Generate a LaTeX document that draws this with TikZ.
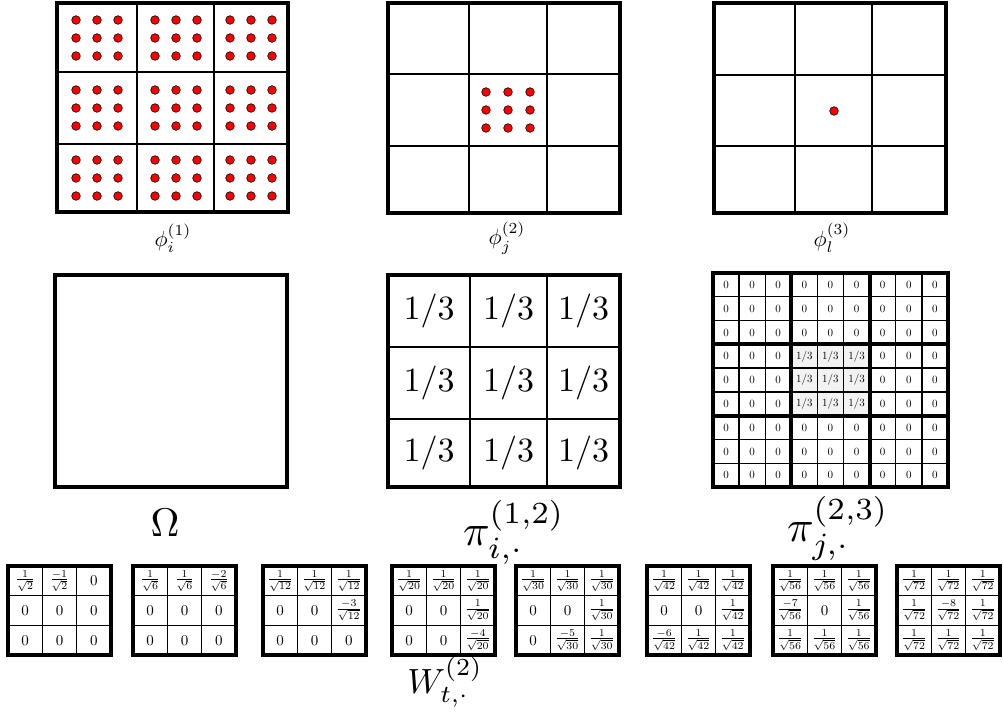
\documentclass[tikz,border=0pt]{standalone}
\usepackage{amsmath}

% one 3x3 table of the bottom row: name, left edge, entries
\newcommand{\wmatrix}[3]{%
  \draw[thinline] (#2+34.3,566) -- (#2+34.3,655) (#2+68.7,566) -- (#2+68.7,655)
                  (#2,595.7) -- (#2+103,595.7) (#2,625.3) -- (#2+103,625.3);
  \draw[frame] (#2,566) rectangle (#2+103,655);
  \foreach \e [count=\k from 0] in {#3} {
    \pgfmathtruncatemacro\col{mod(\k,3)}
    \pgfmathtruncatemacro\row{int(\k/3)}
    \node[wentry] (#1-\k) at (#2+17.2+34.3*\col,580.8+29.7*\row) {$\e$};
  }%
}

\begin{document}
\begin{tikzpicture}[x=1pt,y=-1pt,
  frame/.style={line width=4.5pt},
  thinline/.style={line width=1.1pt},
  reddot/.style={fill=red,draw=black,line width=0.6pt},
  lbl/.style={inner sep=0pt},
  wentry/.style={inner sep=0pt,scale=1.5},
  pentry/.style={inner sep=0pt,scale=1.1}]
\useasboundingbox (0,0) rectangle (1003,713);

% top row: the three levels of basis functions
\draw[thinline] (137,3) -- (137,212) (214,3) -- (214,212) (57,72) -- (288,72) (57,144) -- (288,144);
\draw[frame] (57,3) rectangle (288,212);
\foreach \cx in {97,176,251}
  \foreach \cy in {38,108,178}
    \foreach \dx in {-21,0,21}
      \foreach \dy in {-18,0,18}
        \filldraw[reddot] (\cx+\dx,\cy+\dy) circle (4.3pt);
\node[lbl,scale=2.2] (phiOne) at (173,238) {$\phi_i^{(1)}$};

\draw[thinline] (469,3) -- (469,213) (547,3) -- (547,213) (388,74) -- (620,74) (388,146) -- (620,146);
\draw[frame] (388,3) rectangle (620,213);
\foreach \dx in {-22,0,22}
  \foreach \dy in {-18,0,18}
    \filldraw[reddot] (508+\dx,110+\dy) circle (4.3pt);
\node[lbl,scale=2.2] (phiTwo) at (507,238) {$\phi_j^{(2)}$};

\draw[thinline] (795,3) -- (795,213) (872,3) -- (872,213) (714,75) -- (946,75) (714,146) -- (946,146);
\draw[frame] (714,3) rectangle (946,213);
\filldraw[reddot] (834,111) circle (4.3pt);
\node[lbl,scale=2.2] (phiThree) at (832,238) {$\phi_l^{(3)}$};

% middle row: domain and transfer matrices
\draw[frame] (55,275) rectangle (287,487);
\node[lbl,scale=4] (omega) at (165,523) {$\Omega$};

\draw[thinline] (470,275) -- (470,487) (547,275) -- (547,487) (388,347) -- (620,347) (388,419) -- (620,419);
\draw[frame] (388,275) rectangle (620,487);
\foreach \cx [count=\i] in {429,508.5,583.5}
  \foreach \cy [count=\j] in {311,383,453}
    \node[lbl,scale=3.4] (p12-\i-\j) at (\cx,\cy) {$1/3$};
\node[lbl,scale=4.4] (piOneTwo) at (514,532) {$\pi_{i,\cdot}^{(1,2)}$};

\fill[gray!10] (713+3*26.11,273+3*23.78) rectangle (713+6*26.11,273+6*23.78);
\foreach \n in {1,2,4,5,7,8}
  \draw[line width=1.4pt] (713+\n*26.11,273) -- (713+\n*26.11,487) (713,273+\n*23.78) -- (948,273+\n*23.78);
\foreach \n in {3,6}
  \draw[line width=4pt] (713+\n*26.11,273) -- (713+\n*26.11,487) (713,273+\n*23.78) -- (948,273+\n*23.78);
\draw[frame] (713,273) rectangle (948,487);
\foreach \c in {0,...,8}
  \foreach \r in {0,...,8} {
    \pgfmathtruncatemacro\inner{(\c>2)*(\c<6)*(\r>2)*(\r<6)}
    \ifnum\inner=1
      \node[pentry] (p23-\c-\r) at (726+\c*26.11,285+\r*23.78) {$1/3$};
    \else
      \node[pentry] (p23-\c-\r) at (726+\c*26.11,285+\r*23.78) {$0$};
    \fi
  }
\node[lbl,scale=4.4] (piTwoThree) at (838,528) {$\pi_{j,\cdot}^{(2,3)}$};

% bottom row: wavelet coefficients
\wmatrix{wa}{8}{\frac{1}{\sqrt{2}},\frac{-1}{\sqrt{2}},0,0,0,0,0,0,0}
\wmatrix{wb}{133}{\frac{1}{\sqrt{6}},\frac{1}{\sqrt{6}},\frac{-2}{\sqrt{6}},0,0,0,0,0,0}
\wmatrix{wc}{263}{\frac{1}{\sqrt{12}},\frac{1}{\sqrt{12}},\frac{1}{\sqrt{12}},0,0,\frac{-3}{\sqrt{12}},0,0,0}
\wmatrix{wd}{392}{\frac{1}{\sqrt{20}},\frac{1}{\sqrt{20}},\frac{1}{\sqrt{20}},0,0,\frac{1}{\sqrt{20}},0,0,\frac{-4}{\sqrt{20}}}
\wmatrix{we}{516}{\frac{1}{\sqrt{30}},\frac{1}{\sqrt{30}},\frac{1}{\sqrt{30}},0,0,\frac{1}{\sqrt{30}},0,\frac{-5}{\sqrt{30}},\frac{1}{\sqrt{30}}}
\wmatrix{wf}{647}{\frac{1}{\sqrt{42}},\frac{1}{\sqrt{42}},\frac{1}{\sqrt{42}},0,0,\frac{1}{\sqrt{42}},\frac{-6}{\sqrt{42}},\frac{1}{\sqrt{42}},\frac{1}{\sqrt{42}}}
\wmatrix{wg}{773}{\frac{1}{\sqrt{56}},\frac{1}{\sqrt{56}},\frac{1}{\sqrt{56}},\frac{-7}{\sqrt{56}},0,\frac{1}{\sqrt{56}},\frac{1}{\sqrt{56}},\frac{1}{\sqrt{56}},\frac{1}{\sqrt{56}}}
\wmatrix{wh}{897}{\frac{1}{\sqrt{72}},\frac{1}{\sqrt{72}},\frac{1}{\sqrt{72}},\frac{1}{\sqrt{72}},\frac{-8}{\sqrt{72}},\frac{1}{\sqrt{72}},\frac{1}{\sqrt{72}},\frac{1}{\sqrt{72}},\frac{1}{\sqrt{72}}}
\node[lbl,scale=3.5] (wLbl) at (445,682) {$W_{t,\cdot}^{(2)}$};
\end{tikzpicture}
\end{document}
